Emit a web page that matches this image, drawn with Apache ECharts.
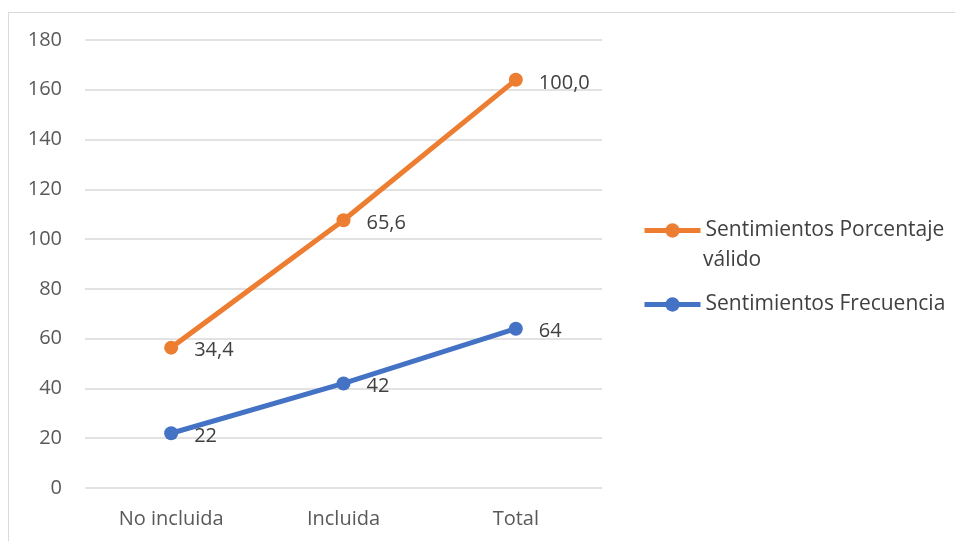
<!DOCTYPE html>
<html>
<head>
<meta charset="utf-8">
<script src="https://cdn.jsdelivr.net/npm/echarts@6/dist/echarts.min.js"></script>
<style>
  html, body { margin: 0; padding: 0; background: #fff; }
  #frame { position: absolute; left: 8px; top: 12px; width: 960px; height: 540px; border: 1px solid #d9d9d9; box-sizing: border-box; }
  #chart { position: absolute; left: 0; top: 0; width: 955px; height: 541px; }
</style>
</head>
<body>
<div id="frame"></div>
<div id="chart"></div>
<script>
const categories = ['No incluida', 'Incluida', 'Total']
const frecuencia = [22, 42, 64]
const porcentaje = [34.4, 65.6, 100.0]
const yTicks = { min: 0, max: 180, interval: 20 }

const BLUE = '#4472C4'
const ORANGE = '#ED7D31'
const FONT = '"Open Sans", "Noto Sans", sans-serif'
const FS = 20
const LEGEND_FS = 21

const chart = echarts.init(document.getElementById('chart'))
chart.setOption({
  animation: false,
  textStyle: { fontFamily: FONT },
  grid: { left: 85, right: 353, top: 40, bottom: 53 },
  legend: {
    data: ['Sentimientos Porcentaje válido', 'Sentimientos Frecuencia'],
    orient: 'vertical',
    left: 642,
    top: 220,
    padding: 0,
    itemWidth: 56,
    itemHeight: 18,
    itemGap: 53,
    lineStyle: { width: 5 },
    textStyle: { fontSize: LEGEND_FS, color: '#404040', fontFamily: FONT },
    formatter: (name) => name.replace(' válido', ''),
  },
  graphic: [{
    type: 'text',
    left: 703,
    top: 250,
    style: { text: 'válido', fontSize: LEGEND_FS, fill: '#404040', fontFamily: FONT },
  }],
  xAxis: {
    type: 'category',
    data: categories,
    boundaryGap: true,
    axisLine: { show: false },
    axisTick: { show: false },
    axisLabel: { fontSize: FS, color: '#595959', margin: 21 },
  },
  yAxis: {
    type: 'value',
    min: yTicks.min,
    max: yTicks.max,
    interval: yTicks.interval,
    axisLabel: { fontSize: FS, color: '#595959', margin: 23 },
    splitLine: { lineStyle: { color: '#d9d9d9', width: 1.5 } },
  },
  series: [
    {
      name: 'Sentimientos Frecuencia',
      type: 'line',
      stack: 'total',
      data: frecuencia,
      symbol: 'circle',
      symbolSize: 14,
      color: BLUE,
      lineStyle: { width: 5, color: BLUE },
      label: {
        show: true, position: 'right', distance: 16, offset: [0, 3],
        fontSize: FS, color: '#404040',
        formatter: (p) => String(p.value),
      },
    },
    {
      name: 'Sentimientos Porcentaje válido',
      type: 'line',
      stack: 'total',
      data: porcentaje,
      symbol: 'circle',
      symbolSize: 14,
      color: ORANGE,
      lineStyle: { width: 5, color: ORANGE },
      label: {
        show: true, position: 'right', distance: 16, offset: [0, 3],
        fontSize: FS, color: '#404040',
        formatter: (p) => p.value.toFixed(1).replace('.', ','),
      },
    },
  ],
})
</script>
</body>
</html>
